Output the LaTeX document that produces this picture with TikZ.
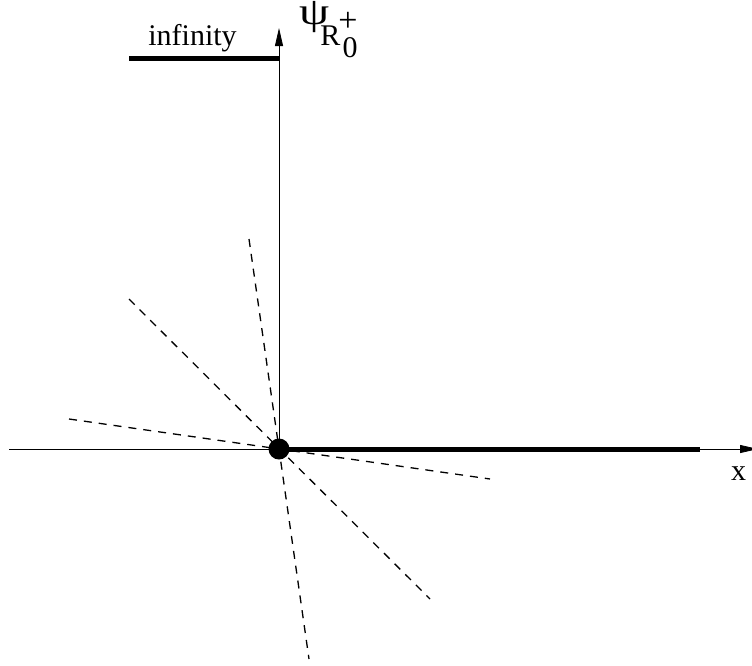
\documentclass[tikz,border=0pt]{standalone}
\usepackage{fontspec}
\setmainfont{Liberation Serif}
\usetikzlibrary{arrows.meta}
\begin{document}
\begin{tikzpicture}[x=1pt,y=-1pt,
  axis/.style={line width=0.8pt,-{Triangle[length=18pt,width=8pt]}},
  heavy/.style={line width=5pt},
  ray/.style={line width=1.3pt,dash pattern=on 8pt off 7pt},
  lbl/.style={font=\fontsize{30}{32}\selectfont,inner sep=0pt}]
\useasboundingbox (0,0) rectangle (752,665);
% key points
\coordinate (O) at (279,449);
\coordinate (xstart) at (9,449);
\coordinate (xtip) at (758,449);
\coordinate (ytip) at (279,28);
\coordinate (heavyend) at (700,449);
\coordinate (infL) at (129,58);
\coordinate (infR) at (279,58);
\coordinate (r1a) at (249,239);
\coordinate (r1b) at (309,659);
\coordinate (r2a) at (129,299);
\coordinate (r2b) at (430,599);
\coordinate (r3a) at (69,419);
\coordinate (r3b) at (490,479);
% axes
\draw[axis] (xstart) -- (xtip);
\draw[axis] (O) -- (ytip);
% dashed rays
\draw[ray] (r1a) -- (r1b);
\draw[ray] (r2a) -- (r2b);
\draw[ray] (r3a) -- (r3b);
% thick lines
\draw[heavy] (O) -- (heavyend);
\draw[heavy] (infL) -- (infR);
% dot
\fill (O) circle (10.5);
% labels
\node[lbl,anchor=base] (inf) at (192.5,45) {infinity};
\node[lbl,font=\fontsize{48}{50}\selectfont,yscale=0.8] (psi) at (315,17.5) {ψ};
\node[lbl,anchor=base] (R) at (330.5,45) {R};
\node[lbl,font=\fontsize{34}{36}\selectfont] (plus) at (348,21.5) {+};
\node[lbl,anchor=base] (zero) at (350,57) {0};
\node[lbl,anchor=base] (xl) at (738.5,480) {x};
\end{tikzpicture}
\end{document}
